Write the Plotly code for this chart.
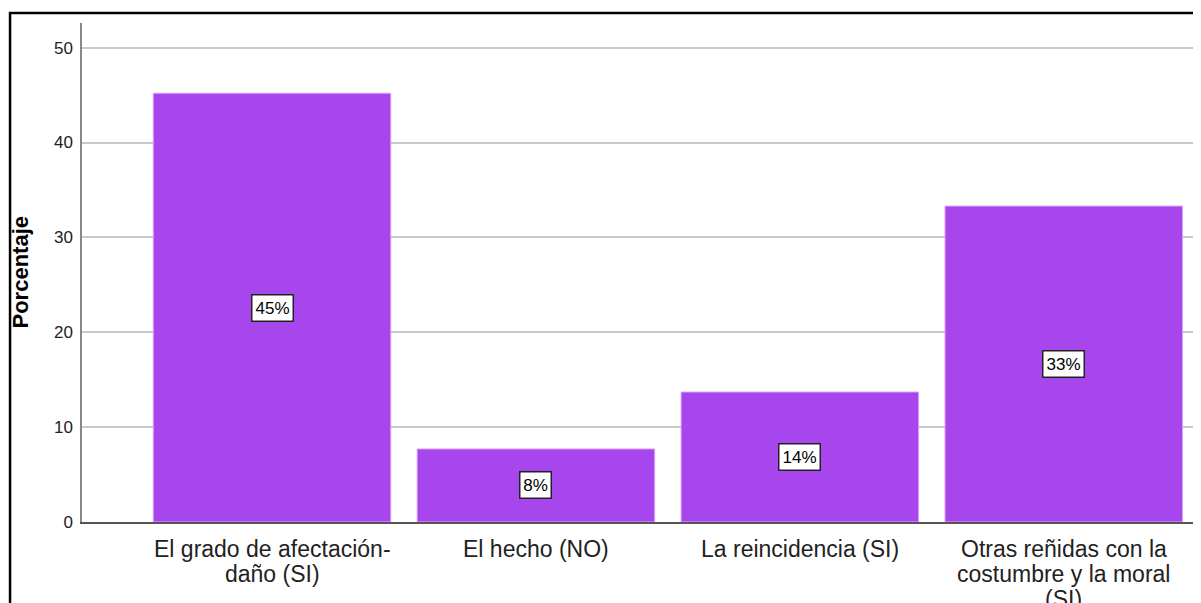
import plotly.graph_objects as go

categories = ["El grado de afectación-<br>daño (SI)", "El hecho (NO)", "La reincidencia (SI)",
              "Otras reñidas con la<br>costumbre y la moral<br>(SI)"]
values = [45.2, 7.7, 13.7, 33.3]
labels = ["45%", "8%", "14%", "33%"]
yticks = [0, 10, 20, 30, 40, 50]

FONT = "Liberation Sans, Arial, sans-serif"

fig = go.Figure()
fig.add_trace(go.Bar(
    x=categories, y=values, width=0.9,
    marker=dict(color="#A846EE", line=dict(color="#D7A4F6", width=1)),
    hoverinfo="skip",
))

# value labels in boxes at mid-height
for c, v, t in zip(categories, values, labels):
    fig.add_annotation(x=c, y=v / 2, text=t, showarrow=False,
                       font=dict(family=FONT, size=17, color="black"),
                       width=len(t) * 10 + 8, height=23, align="center", valign="middle",
                       bgcolor="white", bordercolor="#222", borderwidth=1.5, borderpad=1)

# category labels (tight line spacing)
for c in categories:
    for i, line in enumerate(c.split("<br>")):
        fig.add_annotation(x=c, y=0, yref="paper", text=line, showarrow=False,
                           xanchor="center", yanchor="middle", yshift=-(27 + 25 * i),
                           font=dict(family=FONT, size=23, color="#222"))

# y-axis title
fig.add_annotation(x=-0.0554, xref="paper", y=0.5, yref="paper", text="<b>Porcentaje</b>",
                   textangle=-90, showarrow=False, xanchor="center", yanchor="middle",
                   font=dict(family=FONT, size=22, color="black"))

# outer frame
fig.add_shape(type="rect", xref="paper", yref="paper",
              x0=-0.0643, x1=1.05, y0=-0.4, y1=1.02,
              line=dict(color="black", width=2.5), fillcolor="rgba(0,0,0,0)", layer="above")

fig.update_layout(
    width=1193, height=595,
    margin=dict(l=74, r=0, t=15, b=81),
    paper_bgcolor="white", plot_bgcolor="white",
    showlegend=False,
    font=dict(family=FONT, color="#222"),
    xaxis=dict(range=[-0.72, 3.52], showgrid=False, showline=True, linecolor="#555",
               linewidth=1.5, ticks="", showticklabels=False, fixedrange=True),
    yaxis=dict(range=[0, 52.6], tickvals=yticks, showgrid=True,
               gridcolor="#C8C8C8", gridwidth=1.5, showline=True, linecolor="#888",
               linewidth=1.5, ticks="", ticklabelstandoff=4,
               tickfont=dict(family=FONT, size=17, color="#222"), zeroline=False),
)

fig.write_html("out.html")
